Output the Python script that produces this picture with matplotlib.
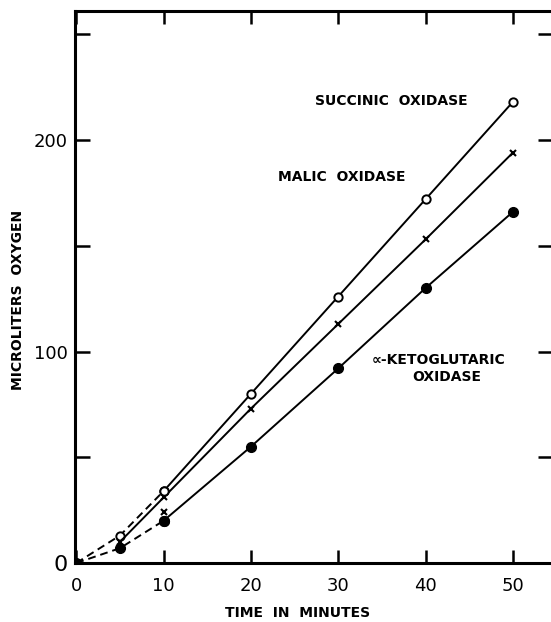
import matplotlib
matplotlib.use("Agg")
import matplotlib.pyplot as plt

# oxygen uptake (microliters) against time (minutes)
succ_t_early = [0, 5, 10]
succ_o_early = [0, 13, 34]
succ_t = [10, 20, 30, 40, 50]
succ_o = [34, 80, 126, 172, 218]

malic_t = [5, 10, 20, 30, 40, 50]
malic_o = [10, 31, 73, 113, 153, 194]
malic_t_extra = [10]
malic_o_extra = [24]

keto_t_early = [0, 5, 10]
keto_o_early = [0, 7, 20]
keto_t = [10, 20, 30, 40, 50]
keto_o = [20, 55, 92, 130, 166]

xticks = [0, 10, 20, 30, 40, 50]
yticks = [0, 50, 100, 150, 200, 250]
ytick_labels = ["0", "", "100", "", "200", ""]

W, H = 551, 622
fig = plt.figure(figsize=(W / 100, H / 100), dpi=100)
ax = fig.add_axes([75 / W, 1 - 563 / H, 478 / W, 552 / H])

lw = 1.4
ax.plot(succ_t_early, succ_o_early, color="black", lw=lw, ls=(0, (4, 2.5)),
        marker="o", mfc="white", mec="black", ms=6, mew=1.4)
ax.plot(succ_t, succ_o, color="black", lw=lw,
        marker="o", mfc="white", mec="black", ms=6, mew=1.4, zorder=4)

ax.plot(malic_t, malic_o, color="black", lw=lw,
        marker="x", ms=5, mew=1.5, mec="black")
ax.plot(malic_t_extra, malic_o_extra, ls="none",
        marker="x", ms=5, mew=1.5, mec="black")

ax.plot(keto_t_early, keto_o_early, color="black", lw=lw, ls=(0, (4, 2.5)),
        marker="o", mfc="black", mec="black", ms=7)
ax.plot(keto_t, keto_o, color="black", lw=lw,
        marker="o", mfc="black", mec="black", ms=7)

ax.set_xlim(-0.15, 54.6)
ax.set_ylim(0, 261)

ax.set_xticks(xticks)
ax.set_xticklabels([str(t) for t in xticks])
ax.set_yticks(yticks)
ax.set_yticklabels(ytick_labels)

for s in ax.spines.values():
    s.set_linewidth(2.2)
ax.spines["right"].set_visible(False)

ax.tick_params(axis="x", direction="in", top=True, length=9.5, width=1.8,
               pad=10, labelsize=13)
ax.tick_params(axis="y", direction="in", right=True, length=11, width=1.8,
               pad=5, labelsize=13)
ax.get_yticklabels()[0].set_fontsize(16)

txt = dict(fontsize=10, fontweight="semibold", color="black")
ax.text(36.1, 218.4, "SUCCINIC  OXIDASE", ha="center", va="center", **txt)
ax.text(30.4, 182.5, "MALIC  OXIDASE", ha="center", va="center", **txt)
ax.text(41.5, 96, "\u221d-KETOGLUTARIC", ha="center", va="center", **txt)
ax.text(42.4, 88, "OXIDASE", ha="center", va="center", **txt)

fig.text(298 / W, 1 - 613 / H, "TIME  IN  MINUTES", ha="center", va="center",
         fontsize=10, fontweight="bold")
fig.text(18 / W, 1 - 300 / H, "MICROLITERS  OXYGEN", ha="center", va="center",
         rotation=90, fontsize=10, fontweight="bold")

fig.savefig("out.png", dpi=100)
